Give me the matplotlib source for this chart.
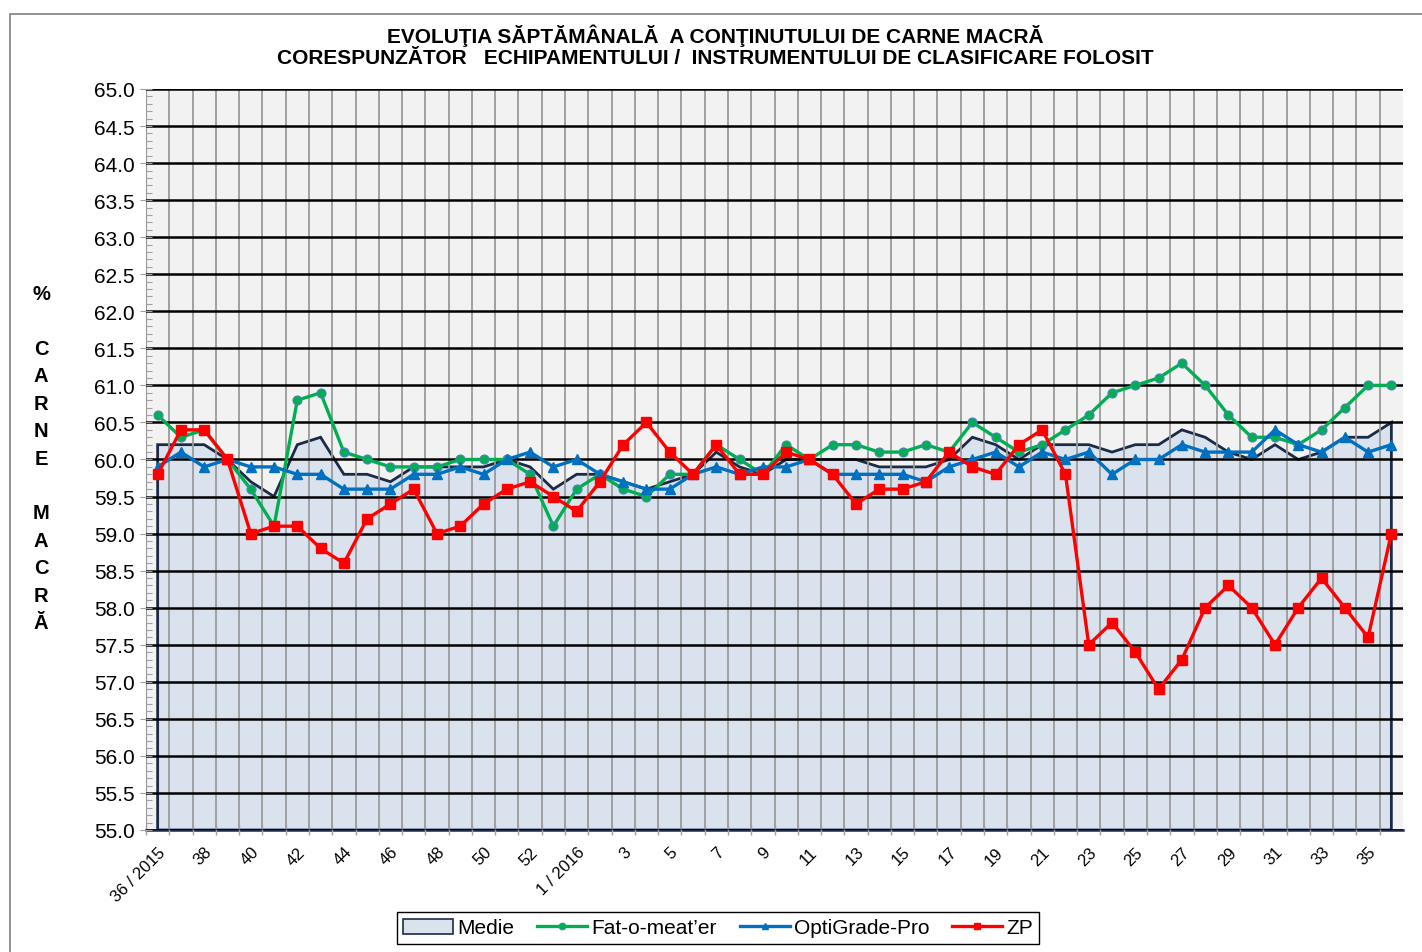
import matplotlib
matplotlib.use("Agg")
import matplotlib.pyplot as plt
from matplotlib.patches import Rectangle, Patch
from matplotlib.lines import Line2D
from matplotlib.ticker import MultipleLocator, FixedLocator, NullFormatter
import numpy as np

# saptamani: 36..53 / 2015 si 1..36 / 2016
weeks_2015 = list(range(36, 54))
weeks_2016 = list(range(1, 37))

medie = [60.2, 60.2, 60.2, 60.0, 59.7, 59.5, 60.2, 60.3, 59.8, 59.8,
         59.7, 59.9, 59.9, 59.9, 59.9, 60.0, 59.9, 59.6, 59.8, 59.8,
         59.7, 59.6, 59.7, 59.8, 60.1, 59.9, 59.8, 60.0, 60.0, 60.0,
         60.0, 59.9, 59.9, 59.9, 60.0, 60.3, 60.2, 60.0, 60.2, 60.2,
         60.2, 60.1, 60.2, 60.2, 60.4, 60.3, 60.1, 60.0, 60.2, 60.0,
         60.1, 60.3, 60.3, 60.5]

fat_o_meater = [60.6, 60.3, 60.4, 60.0, 59.6, 59.1, 60.8, 60.9, 60.1, 60.0,
                59.9, 59.9, 59.9, 60.0, 60.0, 60.0, 59.8, 59.1, 59.6, 59.8,
                59.6, 59.5, 59.8, 59.8, 60.2, 60.0, 59.8, 60.2, 60.0, 60.2,
                60.2, 60.1, 60.1, 60.2, 60.1, 60.5, 60.3, 60.1, 60.2, 60.4,
                60.6, 60.9, 61.0, 61.1, 61.3, 61.0, 60.6, 60.3, 60.3, 60.2,
                60.4, 60.7, 61.0, 61.0]

optigrade = [59.9, 60.1, 59.9, 60.0, 59.9, 59.9, 59.8, 59.8, 59.6, 59.6,
             59.6, 59.8, 59.8, 59.9, 59.8, 60.0, 60.1, 59.9, 60.0, 59.8,
             59.7, 59.6, 59.6, 59.8, 59.9, 59.8, 59.9, 59.9, 60.0, 59.8,
             59.8, 59.8, 59.8, 59.7, 59.9, 60.0, 60.1, 59.9, 60.1, 60.0,
             60.1, 59.8, 60.0, 60.0, 60.2, 60.1, 60.1, 60.1, 60.4, 60.2,
             60.1, 60.3, 60.1, 60.2]

zp = [59.8, 60.4, 60.4, 60.0, 59.0, 59.1, 59.1, 58.8, 58.6, 59.2,
      59.4, 59.6, 59.0, 59.1, 59.4, 59.6, 59.7, 59.5, 59.3, 59.7,
      60.2, 60.5, 60.1, 59.8, 60.2, 59.8, 59.8, 60.1, 60.0, 59.8,
      59.4, 59.6, 59.6, 59.7, 60.1, 59.9, 59.8, 60.2, 60.4, 59.8,
      57.5, 57.8, 57.4, 56.9, 57.3, 58.0, 58.3, 58.0, 57.5, 58.0,
      58.4, 58.0, 57.6, 59.0]

title = ("EVOLUŢIA SĂPTĂMÂNALĂ  A CONŢINUTULUI DE CARNE MACRĂ\n"
         "CORESPUNZĂTOR   ECHIPAMENTULUI /  INSTRUMENTULUI DE CLASIFICARE FOLOSIT")
ylabel_letters = ["%", "", "C", "A", "R", "N", "E", "", "M", "A", "C", "R", "Ă"]

plt.rcParams['font.family'] = ['Liberation Sans', 'DejaVu Sans']


def make_chart():
    labels = [str(w) for w in weeks_2015] + [str(w) for w in weeks_2016]
    labels[0] = "36 / 2015"
    labels[len(weeks_2015)] = "1 / 2016"
    x = np.arange(len(labels))
    ymin, ymax = 55.0, 65.0

    fig = plt.figure(figsize=(14.22, 9.53), dpi=100)
    fig.patches.append(Rectangle((10 / 1422, -0.1), 1.2, 1 - 15 / 953 + 0.1,
                                 transform=fig.transFigure, fill=False,
                                 edgecolor='#7f7f7f', linewidth=1.2))
    ax = fig.add_axes([146 / 1422, 1 - 831 / 953, (1403 - 146) / 1422, (831 - 90) / 953])
    ax.set_facecolor('#F2F2F2')
    ax.set_xlim(-0.5, len(x) - 0.5)
    ax.set_ylim(ymin, ymax)

    # aria pentru medie
    poly_x = np.concatenate([[x[0]], x, [x[-1]]])
    poly_y = np.concatenate([[ymin], medie, [ymin]])
    ax.fill(poly_x, poly_y, facecolor='#DAE2EE', edgecolor='#1B2A45',
            linewidth=2.0, zorder=1)

    # grile
    ax.yaxis.set_major_locator(MultipleLocator(0.5))
    ax.yaxis.set_minor_locator(MultipleLocator(0.1))
    ax.set_yticklabels([f"{v:.1f}" for v in ax.get_yticks()])
    ax.xaxis.set_major_locator(FixedLocator(x[::2]))
    ax.set_xticklabels(labels[::2], rotation=45, ha='right', va='top',
                       rotation_mode='anchor', fontsize=12)
    # linii verticale intre categorii (fara cea de la marginea dreapta)
    ax.xaxis.set_minor_locator(FixedLocator(np.arange(-0.5, len(x) - 1, 1.0)))
    ax.xaxis.set_minor_formatter(NullFormatter())
    ax.grid(axis='y', which='major', color='black', linewidth=1.8, zorder=1.5)
    ax.grid(axis='x', which='minor', color='#9a9a9a', linewidth=1.3, zorder=1.5)
    ax.set_axisbelow(False)
    ax.tick_params(axis='x', which='major', length=0, pad=10)
    ax.tick_params(axis='x', which='minor', length=7, direction='inout',
                   color='#a0a0a0', width=1)
    ax.tick_params(axis='y', which='major', length=8, direction='inout',
                   color='#a0a0a0', labelsize=15, pad=4)
    ax.tick_params(axis='y', which='minor', length=4, direction='in',
                   color='#a0a0a0', width=0.8)
    for s in ['top', 'right']:
        ax.spines[s].set_visible(False)
    ax.spines['left'].set_color('#a0a0a0')
    ax.spines['bottom'].set_color('#1B2A45')
    ax.spines['bottom'].set_linewidth(1.8)

    # serii
    ax.plot(x, fat_o_meater, color='#00B050', linewidth=2.4, marker='o',
            markersize=6.5, markerfacecolor='#00B050', markeredgecolor='#4F81BD',
            markeredgewidth=0.8, zorder=4)
    ax.plot(x, optigrade, color='#0070C0', linewidth=2.4, marker='^',
            markersize=7, markerfacecolor='#0070C0', markeredgecolor='#0070C0', zorder=4)
    ax.plot(x, zp, color='#FF0000', linewidth=2.4, marker='s',
            markersize=6.5, markerfacecolor='#FF0000', markeredgecolor='#FF0000', zorder=5)

    fig.text(715 / 1422, 1 - 46 / 953, title, ha='center', va='center',
             fontsize=15, fontweight='bold', linespacing=1.1)
    fig.text(41 / 1422, 1 - 459 / 953, "\n".join(ylabel_letters), ha='center', va='center',
             fontsize=14.5, fontweight='bold', linespacing=1.56)

    handles = [
        Patch(facecolor='#DAE2EE', edgecolor='#1B2A45', linewidth=1.2),
        Line2D([], [], color='#00B050', linewidth=2.4, marker='o', markersize=5,
               markeredgecolor='#4F81BD', markeredgewidth=0.6),
        Line2D([], [], color='#0070C0', linewidth=2.4, marker='^', markersize=5),
        Line2D([], [], color='#FF0000', linewidth=2.4, marker='s', markersize=5),
    ]
    names = ["Medie", "Fat-o-meat’er", "OptiGrade-Pro", "ZP"]
    leg = fig.legend(handles, names, loc='center', bbox_to_anchor=(718 / 1422, 1 - 929 / 953),
                     ncol=4, fontsize=15, frameon=True, fancybox=False,
                     edgecolor='black', framealpha=1, handlelength=2.4,
                     handletextpad=0.2, columnspacing=1.1, borderpad=0.3)
    leg.get_frame().set_linewidth(1.0)

    fig.savefig("out.png", dpi=100)


if __name__ == "__main__":
    make_chart()
